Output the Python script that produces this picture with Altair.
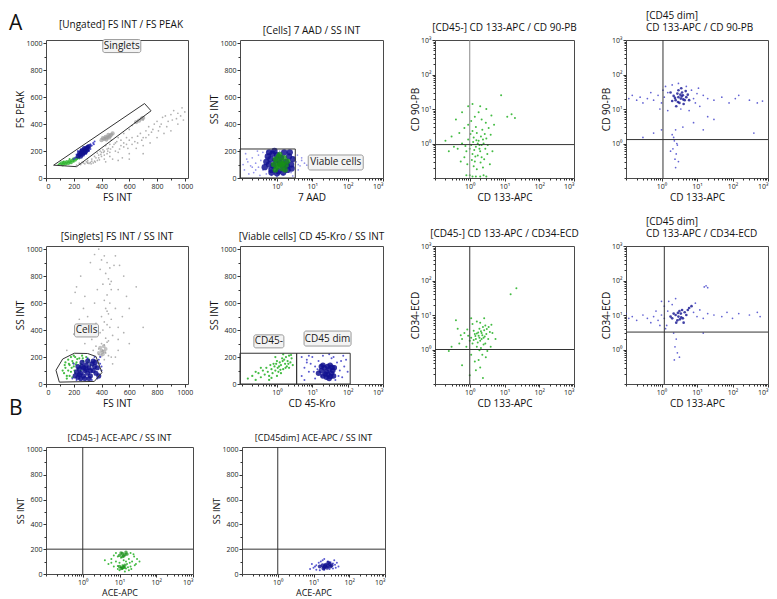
import altair as alt
import pandas as pd

FONT = "Open Sans"
LIN = [0, 1023]
LOG = [0.1, 1000]
LOG_WIDE = [0.09, 1000]

GREY = "#9c9c9c"
NAVY = "#121290"
BLUE = "#3c3cc8"
LAV = "#7a7ae6"
GREEN = "#2fb52f"
DKGREEN = "#168f16"
LINE = "#333333"

LIN_TICKS = [0, 100, 200, 300, 400, 500, 600, 700, 800, 900, 1000]
LOG_TICKS = [0.1, 0.2, 0.3, 0.4, 0.5, 0.6, 0.7, 0.8, 0.9,
             1, 2, 3, 4, 5, 6, 7, 8, 9,
             10, 20, 30, 40, 50, 60, 70, 80, 90,
             100, 200, 300, 400, 500, 600, 700, 800, 900, 1000]
SUP = ("datum.value == 1 ? '10\u2070' : datum.value == 10 ? '10\u00b9' : "
       "datum.value == 100 ? '10\u00b2' : datum.value == 1000 ? '10\u00b3' : ''")
MAJOR_LOG = "datum.value == 1 || datum.value == 10 || datum.value == 100 || datum.value == 1000"

# ---------------- Panel 1: [Ungated] FS INT / FS PEAK ----------------
P1_GREY = [(220,95),(250,100),(280,105),(300,110),(320,115),(340,112),(260,115),(290,120),(310,108),
           (350,125),(370,130),(330,140),(380,150),(400,160),(420,170),(440,180),(460,190),(390,200),
           (410,210),(450,220),(480,230),(500,200),(520,190),(540,240),(560,260),(580,250),(600,280),
           (620,300),(640,270),(660,310),(680,330),(700,300),(720,350),(740,380),(760,340),(780,400),
           (800,420),(820,380),(840,450),(860,460),(880,420),(900,470),(920,500),(950,480),(980,520),
           (1000,490),(550,150),(600,180),(650,220),(700,240),(750,260),(800,300),(850,330),(900,350),
           (950,400),(480,140),(430,120),(520,130),(600,140),(700,180),(500,260),(460,250),(430,240),
           (470,280),(520,300),(560,330),(600,360),(620,390),(660,420),(680,440),(700,430),(640,410),
           (580,300),(540,280),(240,110),(270,112),(300,118),(325,105),(355,118),(385,135),
           (360,150),(380,170),(400,190),(420,200),(440,215),(350,160),(370,185),(395,175),(415,190),
           (445,200),(465,215),(490,250),(510,270),(530,215),(560,230),(590,220),(620,250),(660,260),
           (690,280),(720,300),(740,320),(770,360),(810,350),(830,400),(870,380),(910,430),(940,440),
           (970,460),(990,430),(300,130),(330,125),(420,140),(460,160)]
P1_GREY_CORE = [(400,280),(420,290),(440,300),(460,310),(470,320),(430,305),(450,320),(480,330),
                (410,295),(455,300),(435,285),(650,415),(670,425),(690,440),(700,445)]
P1_BLUE_CORE = [(230,160),(240,170),(250,180),(260,190),(270,200),(280,210),(290,220),(300,230),
                (310,235),(250,160),(265,175),(280,190),(295,205),(240,185),(260,205),(275,220),
                (285,195),(300,215),(270,185),(255,195)]
P1_BLUE = [(200,140),(210,150),(320,250),(330,240),(340,260),(220,175),(310,200),(290,180),(350,270),
           (230,200),(320,215),(250,210),(345,250)]
P1_GREEN_CORE = [(110,110),(130,115),(150,120),(170,125),(190,130),(200,140),(160,110),(180,115),
                 (140,105),(210,135),(120,100),(220,145)]
P1_GREEN = [(90,100),(100,105),(230,150),(240,145),(170,140),(200,120),(125,120)]
P1_GATE = [(55,95),(220,84),(757,498),(710,552)]

# ---------------- Panel 2: [Cells] 7 AAD / SS INT ----------------
P2_LAV = [(0.12,60),(0.15,120),(0.18,90),(0.2,150),(0.22,40),(0.25,110),(0.3,80),(0.3,170),(0.35,130),
          (0.4,60),(0.4,190),(0.45,100),(0.5,30),(0.5,150),(0.6,180),(0.6,70),(0.7,20),(0.8,195),
          (1.2,200),(1.5,25),(2,190),(2.5,40),(3,150),(3,80),(3.5,120),(4,100),(4.5,90),(5,130),
          (6,110),(7,95),(0.13,180),(0.16,30),(0.28,200),(0.33,20),(0.25,60),(0.55,200),(4,60),
          (5,150),(3.8,170),(0.11,100),(0.14,140),(2.8,15),(1,10),(0.9,205),(0.2,80)]
P2_BLUE_CORE = [(0.45,80),(0.5,120),(0.55,160),(0.6,100),(0.65,140),(0.7,60),(0.75,180),(0.8,90),
                (0.9,130),(1.0,170),(1.1,50),(1.2,110),(1.3,150),(1.5,80),(1.6,190),(1.8,120),
                (2.0,60),(2.2,160),(2.5,100),(2.8,140),(0.7,40),(1.0,35),(1.5,40),(2.3,190),(0.6,190),
                (1.9,90),(2.6,70),(0.85,200)]
P2_GREEN_CORE = [(0.8,100),(0.9,140),(1.0,80),(1.0,120),(1.1,160),(1.2,100),(1.3,130),(1.4,70),
                 (1.5,110),(1.6,150),(1.8,95),(2.0,125),(0.9,60),(1.2,175),(1.7,60),(1.1,90),(1.4,100)]
P2_GATE = (0.09, 3.3, 0, 215)

# ---------------- Panel 3: [CD45-] CD 133-APC / CD 90-PB ----------------
P3_GREEN = [(1.2,0.5),(1.5,0.8),(1.8,1.2),(2.0,0.6),(2.2,0.4),(1.3,1.5),(1.6,2.0),(2.5,1.0),(1.1,0.9),
            (1.4,0.3),(1.7,0.45),(2.1,1.6),(2.8,0.7),(3.0,1.4),(1.0,0.7),(1.25,1.1),(1.9,0.9),(2.3,2.5),
            (1.5,3.0),(2.6,0.35),(3.3,0.9),(1.2,2.3),(0.9,1.3),(0.8,0.6),(0.7,0.4),(0.6,1.0),(0.5,2.0),
            (0.45,0.7),(0.9,3.5),(1.1,4.5),(1.4,6.0),(1.8,8.0),(2.2,5.0),(2.9,4.0),(3.5,2.8),(4.0,1.8),
            (4.5,0.6),(3.8,0.25),(2.4,0.2),(1.6,0.18),(1.3,0.22),(0.85,0.25),(0.55,0.3),(0.35,0.8),
            (0.3,1.6),(0.4,5.0),(0.6,8.0),(0.9,12),(1.2,14),(2.0,12),(3.0,10),(4.2,6.5),(5.0,3.5),
            (0.25,0.6),(0.2,1.2),(0.7,2.8),(1.0,0.12),(1.5,0.11),(2.0,0.11),(2.5,0.12),(1.2,0.11),
            (0.8,0.12),(3,0.11),(12,6),(20,5.5),(16,7),(8,25),(2.2,0.9),(1.7,1.0),(1.9,0.7),(1.35,0.65),
            (2.4,1.3),(1.55,1.25),(2.7,1.9),(1.05,1.9),(1.45,0.42),(2.05,0.28),(3.2,0.5),(0.75,0.85),
            (1.15,0.33)]

# ---------------- Panel 4: [CD45 dim] CD 133-APC / CD 90-PB ----------------
P4_CORE = [(2.5,18),(3.0,22),(3.5,20),(4.0,25),(2.8,28),(3.2,15),(4.5,18),(5.0,22),(2.2,24),(3.8,30),
           (4.2,14),(2.0,17),(5.5,26),(3.0,35),(2.6,12),(6,18),(1.8,30),(3.6,40),(4.8,33),(2.4,21),
           (3.4,26),(4.1,19),(2.9,16),(3.7,23)]
P4_BLUE = [(1.2,22),(1.5,30),(1.0,15),(0.8,25),(0.6,18),(0.5,30),(0.4,20),(0.3,15),(0.25,22),(0.2,18),
           (0.15,25),(0.12,20),(1.3,45),(2.0,50),(3.0,55),(5,45),(7,35),(8,20),(9,15),(10,28),(12,12),
           (15,25),(20,20),(30,18),(50,22),(80,15),(120,20),(150,25),(300,18),(500,15),(700,17),(20,6),
           (30,5),(8,4),(4,3),(2.5,2.5),(2.0,1.8),(2.3,1.2),(2.8,0.9),(2.1,0.7),(2.6,0.5),(2.4,0.35),
           (3.0,0.3),(1.0,2.5),(0.6,2.0),(0.3,1.5),(400,2),(15,2.5),(2.2,1.5),(2.7,1.0),(1.8,0.6),
           (2.5,0.2),(3.5,10),(1.5,9),(6,9),(0.9,10),(11,40),(1.1,35)]

# ---------------- Panel 5: [Singlets] FS INT / SS INT ----------------
P5_GREY = [(420,950),(440,900),(460,860),(430,820),(450,780),(410,740),(470,700),(440,660),(420,620),
           (460,600),(430,560),(450,520),(400,500),(470,480),(420,460),(440,440),(460,420),(410,400),
           (390,380),(480,360),(430,340),(450,320),(400,300),(420,290),(440,310),(360,280),(380,260),
           (410,250),(430,230),(450,210),(470,200),(380,220),(350,180),(340,250),(300,500),(280,650),
           (250,800),(220,720),(320,900),(350,960),(500,950),(530,880),(560,800),(520,700),(580,650),
           (600,560),(550,500),(520,420),(560,380),(600,300),(520,250),(500,200),(480,150),(330,330),
           (300,420),(270,560),(210,680),(180,600),(240,480),(280,300),(500,560),(470,760),(390,850),
           (370,700),(350,600),(400,920),(380,1000),(490,880),(360,450),(520,330),(650,720),(700,420),
           (200,370),(150,250),(420,180),(380,160),(440,540),(460,740)]
P5_GREY_CORE = [(380,230),(400,250),(420,240),(390,270),(410,220),(430,260),(395,210),(415,280),(405,235)]
P5_GREEN = [(130,80),(140,120),(150,60),(160,100),(170,140),(180,90),(190,170),(200,130),(210,200),
            (220,160),(230,110),(240,190),(250,150),(260,210),(270,170),(280,130),(290,200),(300,160),
            (140,160),(160,180),(180,200),(200,210),(150,40),(170,60),(190,50),(210,80),(230,70),
            (250,100),(120,100),(135,140),(185,120),(205,100),(225,185),(245,130),(265,190),(310,180),
            (320,140),(165,150),(195,155),(215,145)]
P5_BLUE_CORE = [(210,60),(220,90),(230,50),(240,110),(250,80),(260,130),(270,60),(280,100),(290,140),
                (300,80),(310,120),(320,60),(330,150),(340,100),(350,130),(360,80),(250,40),(280,40),
                (310,40),(230,130),(260,160),(300,170),(340,170),(370,120),(380,60),(270,120),(290,110),
                (240,70),(320,100),(355,160)]
P5_BLUE = [(190,40),(200,150),(390,150),(400,100),(380,180),(350,200),(300,190),(220,30),(330,30),
           (390,200),(370,40),(400,130)]
P5_GATE = [(72,102),(120,185),(204,228),(300,226),(360,204),(403,85),(348,19),(96,14)]

# ---------------- Panel 6: [Viable cells] CD 45-Kro / SS INT ----------------
P6_GREEN = [(0.15,40),(0.2,60),(0.25,30),(0.3,80),(0.35,50),(0.4,100),(0.45,70),(0.5,120),(0.55,90),
            (0.6,60),(0.65,140),(0.7,110),(0.75,80),(0.8,150),(0.85,130),(0.9,100),(1.0,170),(1.05,120),
            (1.1,90),(1.2,160),(1.3,140),(1.4,190),(1.5,110),(1.6,180),(1.7,150),(1.8,200),(1.9,130),
            (2.0,170),(2.2,210),(2.4,160),(2.6,190),(2.8,140),(1.0,60),(0.6,30),(1.3,80),(2.2,120),
            (0.35,120),(0.25,90),(1.5,220),(2.5,215),(0.9,200),(1.15,130),(1.45,170),(1.75,120),
            (2.1,150),(0.95,150),(1.25,105),(0.7,45)]
P6_BLUE = [(5,60),(6,120),(7,180),(8,90),(9,150),(10,200),(12,40),(12,130),(15,170),(18,60),(20,210),
           (40,200),(50,160),(60,100),(70,50),(80,130),(90,180),(6,30),(5,200),(8,210),(45,30),(55,60),
           (100,90),(35,190),(65,170),(11,90),(14,110),(7,160),(30,220),(75,210)]
P6_BLUE_CORE = [(15,80),(18,100),(20,60),(22,120),(25,90),(28,70),(30,110),(32,140),(35,80),(38,100),
                (40,60),(20,140),(25,50),(30,40),(18,130),(42,120),(27,130),(33,55),(23,75),(36,125)]
P6_GATES = [(0.09, 3.6, 0, 228), (3.6, 118, 0, 228)]

# ---------------- Panel 7: [CD45-] CD 133-APC / CD34-ECD ----------------
P7_GREEN = [(1.2,1.5),(1.5,2.0),(1.8,2.5),(2.0,1.8),(2.2,3.0),(2.5,2.2),(1.3,3.5),(1.6,1.2),(2.8,1.5),
            (3.0,2.8),(1.1,2.2),(1.4,2.8),(1.9,4.0),(2.4,4.5),(2.1,1.1),(1.7,1.6),(2.6,3.6),(3.4,2.0),
            (3.8,3.2),(1.0,1.8),(0.9,2.5),(0.8,1.2),(0.7,3.0),(0.6,2.0),(0.5,1.5),(0.45,4.0),(0.3,1.2),
            (0.25,0.9),(1.2,5.5),(1.6,6.5),(2.0,6.0),(2.8,5.0),(3.5,4.5),(4.5,3.0),(5.5,2.0),(4.0,1.2),
            (3.2,0.9),(2.3,0.7),(1.8,0.5),(1.4,0.45),(1.1,0.7),(2.9,0.6),(2.0,0.3),(1.5,0.25),(0.6,0.35),
            (1.0,0.18),(2.4,0.15),(0.4,7),(15,40),(22,60),(1.9,2.2),(2.3,2.6),(1.6,2.9),(2.7,2.4),
            (2.1,3.4),(1.3,1.9),(2.5,1.4),(3.1,3.9),(1.75,3.1),(2.2,2.0),(1.45,2.45),(0.85,3.8),
            (4.2,5.2),(0.55,2.6),(2.6,8),(1.1,8),(1.9,0.95)]

# ---------------- Panel 8: [CD45 dim] CD 133-APC / CD34-ECD ----------------
P8_CORE = [(2.0,8),(2.5,10),(3.0,9),(3.5,11),(4.0,8),(2.8,7),(3.2,13),(4.5,12),(5.0,10),(2.2,11),
           (3.8,14),(1.8,9),(4.2,6),(2.6,6),(3.6,8.5),(5.5,14),(6,16),(7,18),(2.9,11.5),(3.3,7.5)]
P8_BLUE = [(1.2,8),(1.0,10),(0.8,7),(0.6,9),(0.5,6),(0.4,8),(0.3,10),(0.2,7),(0.15,9),(0.12,8),(0.1,11),
           (1.5,13),(1.4,5),(1.2,18),(2,20),(1.6,25),(2.5,30),(8,12),(10,9),(12,14),(15,8),(20,11),
           (30,10),(50,9),(70,12),(100,8),(150,11),(300,10),(500,12),(600,9),(16,65),(18,70),(20,62),
           (15,3),(2.2,3),(2.6,2),(2.4,1.2),(2.8,0.8),(3.2,0.6),(2.3,0.5),(1,25),(9,22),(0.7,13),
           (0.9,5),(1.3,4)]

# ---------------- Panel 9: [CD45-] ACE-APC / SS INT ----------------
P9_CORE = [(10,150),(12,165),(14,155),(11,170),(13,145),(15,175),(12,140),(16,160),
           (10,60),(12,50),(14,70),(11,45),(13,55)]
P9_GREEN = [(5,80),(6,120),(7,60),(8,100),(9,40),(10,90),(11,130),(12,70),(13,110),(14,50),(15,100),
            (16,80),(18,120),(20,60),(22,100),(25,140),(28,80),(30,120),(8,170),(9,140),(7,150),(20,170),
            (24,160),(10,30),(12,40),(18,30),(14,20),(6,90),(11,55),(13,65),(15,45),(17,55),(9,65),
            (19,90),(21,40),(26,70),(4,110),(35,100)]

# ---------------- Panel 10: [CD45dim] ACE-APC / SS INT ----------------
P10_CORE = [(15,60),(18,70),(20,55),(22,75),(25,65),(28,80),(30,60),(24,50),(19,45),(32,70),(26,90),(21,65)]
P10_BLUE = [(8,40),(10,50),(12,70),(14,90),(16,100),(18,110),(20,120),(25,100),(30,95),(35,85),(40,75),
            (45,90),(50,60),(12,35),(15,30),(20,35),(28,40),(35,45),(11,60),(38,110),(9,80),(42,50)]


def scale_axis(kind, dom, title, afs, tpad):
    common = dict(title=title, titleFontSize=afs, titlePadding=tpad, labelOverlap=False)
    if kind == "lin":
        sc = alt.Scale(domain=dom, nice=False, zero=False)
        ax = alt.Axis(values=LIN_TICKS, format="d",
                      labelExpr="datum.value % 200 == 0 ? datum.label : ''",
                      tickSize={"condition": {"test": "datum.value % 200 == 0", "value": 3}, "value": 2},
                      **common)
    else:
        sc = alt.Scale(type="log", domain=dom, nice=False)
        ax = alt.Axis(values=[v for v in LOG_TICKS if dom[0] <= v <= dom[1]],
                      labelExpr=SUP,
                      tickSize={"condition": {"test": MAJOR_LOG, "value": 3}, "value": 2},
                      **common)
    return sc, ax


def build(spec):
    afs = spec.get("afs", 10)
    xs, xa = scale_axis(spec["xk"], spec["xdom"], spec["xt"], afs, spec.get("xpad", 3))
    ys, ya = scale_axis(spec["yk"], spec["ydom"], spec["yt"], afs, 0)

    def X(f="x"):
        return alt.X(f + ":Q", scale=xs, axis=xa)

    def Y(f="y"):
        return alt.Y(f + ":Q", scale=ys, axis=ya)

    charts = []
    for pts, color, size, op in spec["clouds"]:
        df = pd.DataFrame(pts, columns=["x", "y"])
        charts.append(alt.Chart(df).mark_circle(color=color, size=size, opacity=op, clip=True)
                      .encode(x=X(), y=Y()))
    for g in spec.get("polys", []):
        df = pd.DataFrame(g + [g[0]], columns=["x", "y"])
        df["o"] = list(range(len(df)))
        charts.append(alt.Chart(df).mark_line(color=LINE, strokeWidth=1)
                      .encode(x=X(), y=Y(), order="o:Q"))
    for (x1, x2, y1, y2) in spec.get("rects", []):
        df = pd.DataFrame({"x": [x1], "x2": [x2], "y": [y1], "y2": [y2]})
        charts.append(alt.Chart(df).mark_rect(fillOpacity=0, stroke=LINE, strokeWidth=1)
                      .encode(x=X(), x2="x2:Q", y=Y(), y2="y2:Q"))
    for (vx, col) in spec.get("vlines", []):
        charts.append(alt.Chart(pd.DataFrame({"x": [vx]})).mark_rule(color=col, strokeWidth=1)
                      .encode(x=X()))
    for (vy, col) in spec.get("hlines", []):
        charts.append(alt.Chart(pd.DataFrame({"y": [vy]})).mark_rule(color=col, strokeWidth=1)
                      .encode(y=Y()))
    for (txt, lx, ly, bw, bh) in spec.get("labels", []):
        df = pd.DataFrame({"x": [lx], "y": [ly], "t": [txt]})
        charts.append(alt.Chart(df).mark_rect(width=bw, height=bh, fill="#f3f3f3", stroke="#9a9a9a",
                                              cornerRadius=2).encode(x=X(), y=Y()))
        charts.append(alt.Chart(df).mark_text(font=FONT, fontSize=10, color="#1a1a1a")
                      .encode(x=X(), y=Y(), text="t:N"))
    for (txt, px, py, op) in spec.get("letters", []):
        charts.append(alt.Chart(pd.DataFrame({"t": [txt]}))
                      .mark_text(font=FONT, fontSize=21, align="left", baseline="alphabetic",
                                 opacity=op, color="#111111")
                      .encode(x=alt.value(px), y=alt.value(py), text="t:N"))
    t = spec["title"]
    tfs = spec.get("tfs", 10)
    if isinstance(t, list):
        title = alt.TitleParams(t, anchor="start", align="left", dx=spec.get("tdx", 20),
                                lineHeight=12.5, frame="group", fontSize=tfs)
    else:
        title = alt.TitleParams(t, anchor="middle", frame="group", fontSize=tfs,
                                dx=spec.get("tdx", 0), dy=spec.get("tdy", 0))
    return alt.layer(*charts).properties(width=spec["w"], height=spec["h"], title=title)


W = [142, 143, 139, 142]
H = 138

p1 = build(dict(title="[Ungated] FS INT / FS PEAK", xk="lin", xdom=LIN, xt="FS INT",
                yk="lin", ydom=LIN, yt="FS PEAK", w=W[0], h=H, tdy=20, tdx=4,
                clouds=[(P1_GREY, GREY, 3, 0.8), (P1_GREY_CORE, GREY, 18, 0.7),
                        (P1_GREEN, GREEN, 4, 0.9), (P1_GREEN_CORE, GREEN, 14, 0.8),
                        (P1_BLUE, BLUE, 4, 0.9), (P1_BLUE_CORE, NAVY, 22, 0.85)],
                polys=[P1_GATE], labels=[("Singlets", 546, 978, 38, 13)],
                letters=[("A", -37, -10, 1)]))
p2 = build(dict(title="[Cells] 7 AAD / SS INT", xk="log", xdom=LOG_WIDE, xt="7 AAD",
                yk="lin", ydom=LIN, yt="SS INT", w=W[1], h=H,
                clouds=[(P2_LAV, LAV, 3, 0.8), (P2_BLUE_CORE, NAVY, 40, 0.85),
                        (P2_GREEN_CORE, DKGREEN, 30, 0.8)],
                rects=[P2_GATE], labels=[("Viable cells", 46, 115, 55, 15)]))
p3 = build(dict(title="[CD45-] CD 133-APC / CD 90-PB", xk="log", xdom=LOG, xt="CD 133-APC",
                yk="log", ydom=LOG, yt="CD 90-PB", w=W[2], h=H,
                clouds=[(P3_GREEN, GREEN, 4, 0.9)],
                vlines=[(1.0, "#8a8a8a")], hlines=[(0.93, LINE)]))
p4 = build(dict(title=["[CD45 dim]", "CD 133-APC / CD 90-PB"], xk="log", xdom=LOG, xt="CD 133-APC",
                yk="log", ydom=LOG, yt="CD 90-PB", w=W[3], h=H,
                clouds=[(P4_BLUE, BLUE, 3, 0.8), (P4_CORE, NAVY, 7, 0.8)],
                vlines=[(1.1, LINE)], hlines=[(1.3, LINE)]))
p5 = build(dict(title="[Singlets] FS INT / SS INT", xk="lin", xdom=LIN, xt="FS INT",
                yk="lin", ydom=LIN, yt="SS INT", w=W[0], h=H,
                clouds=[(P5_GREY, GREY, 3, 0.8), (P5_GREY_CORE, GREY, 14, 0.6),
                        (P5_GREEN, GREEN, 5, 0.9), (P5_BLUE, BLUE, 4, 0.9),
                        (P5_BLUE_CORE, NAVY, 26, 0.85)],
                polys=[P5_GATE], labels=[("Cells", 292, 397, 24, 13)],
                letters=[("B", -37, H + 31, 1)]))
p6 = build(dict(title="[Viable cells] CD 45-Kro / SS INT", xk="log", xdom=LOG_WIDE, xt="CD 45-Kro",
                yk="lin", ydom=LIN, yt="SS INT", w=W[1], h=H,
                clouds=[(P6_GREEN, GREEN, 5, 0.9), (P6_BLUE, BLUE, 4, 0.85),
                        (P6_BLUE_CORE, NAVY, 30, 0.85)],
                rects=P6_GATES,
                labels=[("CD45-", 0.59, 316, 30, 13), ("CD45 dim", 27, 337, 47, 15)]))
p7 = build(dict(title="[CD45-] CD 133-APC / CD34-ECD", xk="log", xdom=LOG, xt="CD 133-APC",
                yk="log", ydom=LOG, yt="CD34-ECD", w=W[2], h=H,
                clouds=[(P7_GREEN, GREEN, 4, 0.9)],
                vlines=[(1.0, LINE)], hlines=[(1.0, LINE)]))
p8 = build(dict(title=["[CD45 dim]", "CD 133-APC / CD34-ECD"], xk="log", xdom=LOG, xt="CD 133-APC",
                yk="log", ydom=LOG, yt="CD34-ECD", w=W[3], h=H,
                clouds=[(P8_BLUE, BLUE, 3, 0.8), (P8_CORE, NAVY, 7, 0.8)],
                vlines=[(1.2, LINE)], hlines=[(3.2, LINE)]))
p9 = build(dict(title="[CD45-] ACE-APC / SS INT", xk="log", xdom=LOG, xt="ACE-APC",
                yk="lin", ydom=LIN, yt="SS INT", w=147, h=127, afs=9, tfs=9, xpad=3,
                clouds=[(P9_GREEN, GREEN, 4, 0.9), (P9_CORE, DKGREEN, 12, 0.7)],
                vlines=[(1.0, LINE)], hlines=[(200, LINE)],
                letters=[("B", -37, 60, 0)]))
p10 = build(dict(title="[CD45dim] ACE-APC / SS INT", xk="log", xdom=LOG, xt="ACE-APC",
                 yk="lin", ydom=LIN, yt="SS INT", w=143, h=127, afs=9, tfs=9, xpad=3,
                 clouds=[(P10_BLUE, BLUE, 4, 0.85), (P10_CORE, NAVY, 16, 0.8)],
                 vlines=[(1.0, LINE)], hlines=[(200, LINE)]))

row1 = alt.hconcat(p1, p2, p3, p4, spacing=52, bounds="flush")
row2 = alt.hconcat(p5, p6, p7, p8, spacing=52, bounds="flush")
row3 = alt.hconcat(p9, p10, spacing=49, bounds="flush")

chart = (alt.vconcat(row1, row2, row3, spacing=13)
         .properties(padding={"top": 2, "left": 0, "right": 0, "bottom": 0})
         .configure_view(stroke="#4a4a4a", strokeWidth=1)
         .configure_axis(grid=False, domain=False, labelFont=FONT, labelFontSize=7,
                         labelColor="#222222", labelPadding=1, tickColor="#333333",
                         titleFont=FONT, titleFontWeight="normal", titleColor="#111111")
         .configure_title(font=FONT, fontWeight="normal", color="#111111", offset=3))

chart.save("out.html", embed_options={"renderer": "svg", "actions": False})
